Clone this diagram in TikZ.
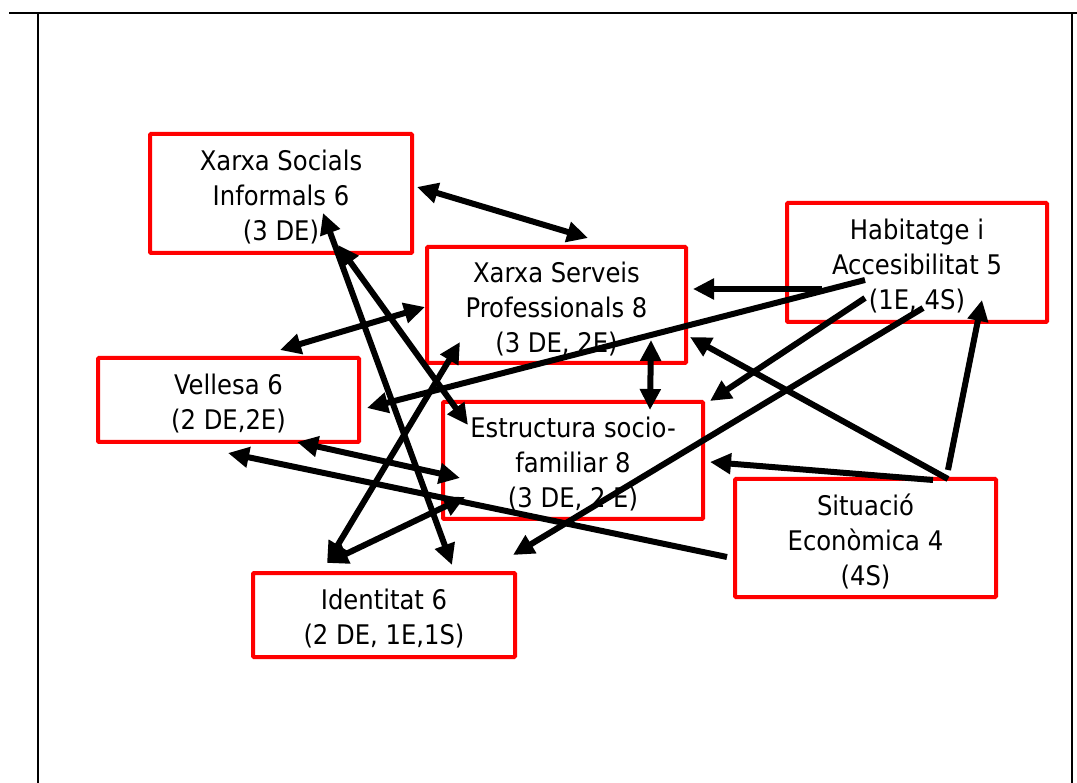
\documentclass[tikz,border=0pt]{standalone}
\usepackage{fontspec}
\setmainfont{DejaVu Sans Condensed}
\usetikzlibrary{arrows.meta}
\tikzset{bigtip/.tip={Triangle[length=21pt,width=20pt]}}
\newcommand{\boxstrut}{\rule{0pt}{28pt}}
\begin{document}
\begin{tikzpicture}[x=1pt,y=-1pt,
  box/.style={draw=red, line width=4pt, rounded corners=1pt, align=center, inner sep=0pt,
    font=\fontsize{27}{35}\selectfont, text=black},
  link/.style={line width=6pt, -bigtip},
  dlink/.style={line width=6pt, bigtip-bigtip},
  framerule/.style={line width=2.5pt}]
\useasboundingbox (0,0) rectangle (1077,783);
% page frame
\coordinate (ftl) at (9,13);
\coordinate (ftr) at (1077,13);
\coordinate (fl1) at (38,13);
\coordinate (fl2) at (38,783);
\coordinate (fr1) at (1072,13);
\coordinate (fr2) at (1072,783);
\draw[framerule] (ftl) -- (ftr);
\draw[framerule] (fl1) -- (fl2);
\draw[framerule] (fr1) -- (fr2);
% boxes
\node[box, minimum width=262pt, minimum height=119pt] (xsi) at (281,193.5) {\boxstrut Xarxa Socials\\Informals 6\\(3 DE)};
\node[box, minimum width=259pt, minimum height=116pt] (xsp) at (556.5,305) {\boxstrut Xarxa Serveis\\Professionals 8\\(3 DE, 2E)};
\node[box, minimum width=260pt, minimum height=119pt] (hab) at (917,262.5) {\boxstrut Habitatge i\\Accesibilitat 5\\(1E, 4S)};
\node[box, minimum width=261pt, minimum height=84pt] (vel) at (228.5,400) {\boxstrut Vellesa 6\\(2 DE,2E)};
\node[box, minimum width=260pt, minimum height=117pt] (est) at (573,460.5) {\boxstrut Estructura socio-\\familiar 8\\(3 DE, 2 E)};
\node[box, minimum width=262pt, minimum height=84pt] (ide) at (384,615) {\boxstrut Identitat 6\\(2 DE, 1E,1S)};
\node[box, minimum width=261pt, minimum height=118pt] (sit) at (865.5,538) {\boxstrut Situació\\Econòmica 4\\(4S)};
% connector end points
\coordinate (xsiR) at (417,187);
\coordinate (xspT) at (588,238);
\coordinate (velT) at (280,350);
\coordinate (xspL) at (425,307);
\coordinate (habA) at (822,289);
\coordinate (xspR) at (693,289);
\coordinate (habB) at (865,280);
\coordinate (velR) at (367,408);
\coordinate (habC) at (865,298);
\coordinate (estTR) at (710,401);
\coordinate (habD) at (923,308);
\coordinate (estBR) at (513,555);
\coordinate (sitA) at (948,470);
\coordinate (habBot) at (982,300);
\coordinate (sitB) at (948,479);
\coordinate (xspBR) at (690,337);
\coordinate (sitC) at (933,480);
\coordinate (estR) at (710,462);
\coordinate (sitL) at (727,557);
\coordinate (velBL) at (228,453);
\coordinate (xspB) at (651,340);
\coordinate (estT) at (650,410);
\coordinate (velB) at (297,442);
\coordinate (estL) at (460,478);
\coordinate (ideTL) at (327,563);
\coordinate (estLB) at (465,497);
\coordinate (xspBL) at (460,342);
\coordinate (xsiB) at (323,213);
\coordinate (ideTR) at (452,565);
\coordinate (xsiB2) at (338,245);
\coordinate (estTL) at (468,425);
% connectors
\draw[dlink] (xsiR) -- (xspT);
\draw[dlink] (velT) -- (xspL);
\draw[link] (habA) -- (xspR);
\draw[link] (habB) -- (velR);
\draw[link] (habC) -- (estTR);
\draw[link] (habD) -- (estBR);
\draw[link] (sitA) -- (habBot);
\draw[link] (sitB) -- (xspBR);
\draw[link] (sitC) -- (estR);
\draw[link] (sitL) -- (velBL);
\draw[dlink] (xspB) -- (estT);
\draw[dlink] (velB) -- (estL);
\draw[dlink] (ideTL) -- (estLB);
\draw[dlink] (ideTL) -- (xspBL);
\draw[dlink] (xsiB) -- (ideTR);
\draw[dlink] (xsiB2) -- (estTL);
\end{tikzpicture}
\end{document}
